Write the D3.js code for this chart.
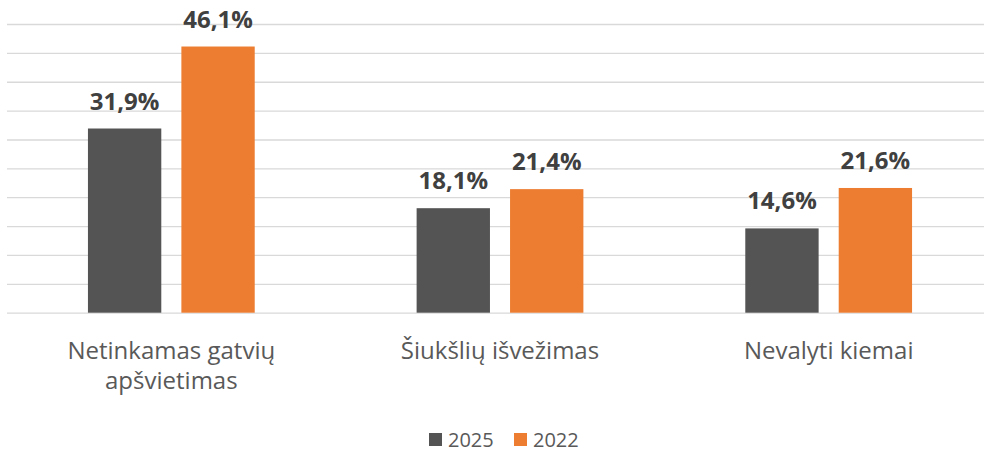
<!DOCTYPE html>
<html>
<head>
<meta charset="utf-8">
<script src="https://cdn.jsdelivr.net/npm/d3@7"></script>
<style>
  body { margin: 0; background: #fff; }
  svg { display: block; }
</style>
</head>
<body>
<div id="chart"></div>
<script>
const FRAME_WIDTH = 984;
const FRAME_HEIGHT = 451;

// data
const categories = ["Netinkamas gatvių apšvietimas", "Šiukšlių išvežimas", "Nevalyti kiemai"];
const seriesNames = ["2025", "2022"];
const values2025 = [31.9, 18.1, 14.6];
const values2022 = [46.1, 21.4, 21.6];
const labels2025 = ["31,9%", "18,1%", "14,6%"];
const labels2022 = ["46,1%", "21,4%", "21,6%"];
const colors = ["#545454", "#ED7D31"];

const PLOT = {left: 7, right: 993, top: 24, bottom: 312.7};

const FRAME = d3.select("#chart")
                  .append("svg")
                    .attr("width", FRAME_WIDTH)
                    .attr("height", FRAME_HEIGHT);

// scales
const X_SCALE = d3.scaleBand()
                    .domain(categories)
                    .range([PLOT.left, PLOT.right])
                    .paddingInner(0.4926)
                    .paddingOuter(0.2463);
const X_INNER = d3.scaleBand()
                    .domain(seriesNames)
                    .range([0, X_SCALE.bandwidth()])
                    .paddingInner(0.215);
const Y_SCALE = d3.scaleLinear()
                    .domain([0, 50])
                    .range([PLOT.bottom, PLOT.top]);

// gridlines
FRAME.append("g")
    .attr("transform", "translate(" + PLOT.left + ",0)")
    .call(d3.axisLeft(Y_SCALE).ticks(10).tickSize(-(FRAME_WIDTH - PLOT.left)).tickFormat(""))
    .call(g => g.select(".domain").remove())
    .call(g => g.selectAll(".tick line")
        .attr("stroke", "#D9D9D9")
        .attr("stroke-width", 1.3));

const rows = categories.map((c, i) => ({
    category: c,
    bars: [
        {series: seriesNames[0], value: values2025[i], label: labels2025[i], color: colors[0]},
        {series: seriesNames[1], value: values2022[i], label: labels2022[i], color: colors[1]}
    ]
}));

const groups = FRAME.selectAll(".group")
    .data(rows)
    .enter()
    .append("g")
      .attr("class", "group")
      .attr("transform", d => "translate(" + X_SCALE(d.category) + ",0)");

groups.selectAll("rect")
    .data(d => d.bars)
    .enter()
    .append("rect")
      .attr("x", d => X_INNER(d.series))
      .attr("y", d => Y_SCALE(d.value))
      .attr("width", X_INNER.bandwidth())
      .attr("height", d => Y_SCALE(0) - Y_SCALE(d.value))
      .attr("fill", d => d.color);

// value labels
groups.selectAll(".value")
    .data(d => d.bars)
    .enter()
    .append("text")
      .attr("class", "value")
      .attr("x", d => X_INNER(d.series) + X_INNER.bandwidth() / 2)
      .attr("y", d => Y_SCALE(d.value) - 19)
      .attr("text-anchor", "middle")
      .attr("font-family", "'Open Sans', sans-serif")
      .attr("font-weight", "bold")
      .attr("font-size", "24px")
      .attr("fill", "#404040")
      .text(d => d.label);

// category labels (wrapped)
FRAME.selectAll(".cat")
    .data(categories)
    .enter()
    .append("text")
      .attr("class", "cat")
      .attr("x", d => X_SCALE(d) + X_SCALE.bandwidth() / 2)
      .attr("y", 359)
      .attr("text-anchor", "middle")
      .attr("font-family", "'Open Sans', sans-serif")
      .attr("font-size", "24px")
      .attr("fill", "#595959")
      .each(function (d) {
          const text = d3.select(this);
          const x = text.attr("x");
          const words = d.split(" ");
          let line = [];
          let tspan = text.append("tspan").attr("x", x).attr("dy", 0);
          words.forEach(w => {
              line.push(w);
              tspan.text(line.join(" "));
              if (tspan.node().getComputedTextLength() > 260 && line.length > 1) {
                  line.pop();
                  tspan.text(line.join(" "));
                  line = [w];
                  tspan = text.append("tspan").attr("x", x).attr("dy", 30).text(w);
              }
          });
      });

// legend
const legend = FRAME.append("g");
const legendX = [429, 514];
seriesNames.forEach((s, i) => {
    legend.append("rect")
        .attr("x", legendX[i])
        .attr("y", 433)
        .attr("width", 13)
        .attr("height", 13)
        .attr("fill", colors[i]);
    legend.append("text")
        .attr("x", legendX[i] + 19)
        .attr("y", 446.5)
        .attr("font-family", "'Open Sans', sans-serif")
        .attr("font-size", "20px")
        .attr("fill", "#595959")
        .text(s);
});
</script>
</body>
</html>
